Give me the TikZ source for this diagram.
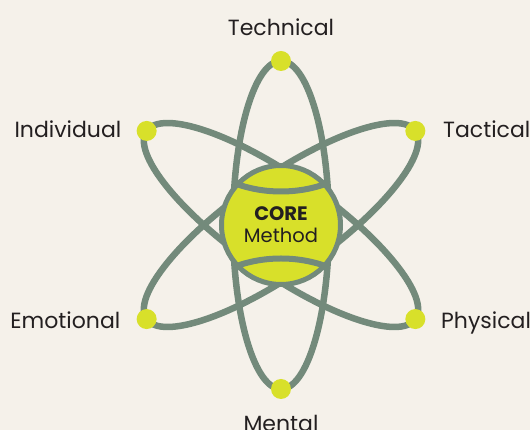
\documentclass[tikz,border=0pt]{standalone}
\usepackage{fontspec}
\setmainfont{Poppins}

\definecolor{paper}{HTML}{F5F1EA}
\definecolor{sage}{HTML}{738A7B}
\definecolor{lime}{HTML}{D8E02A}
\definecolor{ink}{HTML}{231F20}

\def\orbit{164}

\begin{document}
\begin{tikzpicture}[x=1pt,y=1pt]
    \tikzstyle{ring}=[draw=sage,line width=6.5pt]
    \tikzstyle{dot}=[circle,fill=lime,minimum size=20pt,inner sep=0pt]
    \tikzstyle{core}=[circle,fill=lime,draw=sage,line width=5pt,minimum size=119pt,inner sep=0pt,
        align=center,text=ink,font=\fontsize{19.5}{22.3}\selectfont]
    \tikzstyle{seam}=[draw=sage,line width=6pt]
    \tikzstyle{annot}=[inner sep=0pt,text=ink,font=\fontsize{22}{26}\selectfont]

    % Background and page size
    \fill[paper] (-281,-205) rectangle (249,225);
    \useasboundingbox (-281,-205) rectangle (249,225);

    % The three orbits
    \foreach \tilt in {0,-55,55}
        \path[ring,rotate=\tilt] (0,0) ellipse [x radius=48, y radius=\orbit];

    % Dots at the ends of the orbits
    \foreach \name / \ang in {tech/90, tact/35, phys/-35, ment/-90, emot/215, indi/145}
        \node[dot] (D-\name) at (\ang:\orbit) {};

    % Centre ball
    \node[core] (core) at (0,0) {\textbf{CORE}\\Method};

    % Seams of the ball
    \begin{scope}
        \clip (core.center) circle (59);
        \path[seam] (-52,44) .. controls (-20,30) and (20,30) .. (52,44);
        \path[seam] (-52,-44) .. controls (-20,-30) and (20,-30) .. (52,-44);
    \end{scope}

    % Labels
    \node[annot,anchor=base] (L-tech) at (0,189) {Technical};
    \node[annot,anchor=base east] (L-indi) at (-159.5,87.3) {Individual};
    \node[annot,anchor=base west] (L-tact) at (162,87.3) {Tactical};
    \node[annot,anchor=base east] (L-emot) at (-160.5,-103.3) {Emotional};
    \node[annot,anchor=base west] (L-phys) at (160,-103.3) {Physical};
    \node[annot,anchor=base] (L-ment) at (0,-206.7) {Mental};
\end{tikzpicture}
\end{document}
